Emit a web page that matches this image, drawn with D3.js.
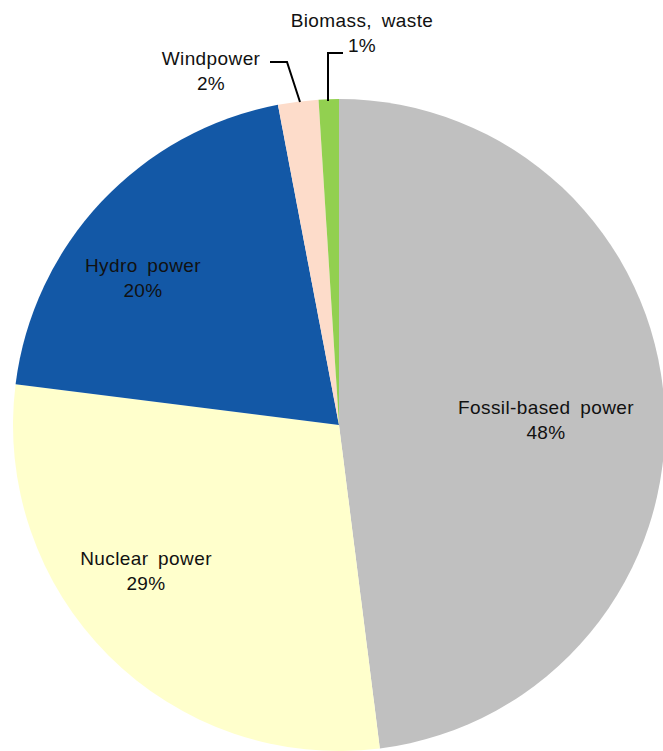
<!DOCTYPE html>
<html>
<head>
<meta charset="utf-8">
<script src="https://cdn.jsdelivr.net/npm/d3@7"></script>
<style>
  body { margin: 0; background: #fff; }
  svg text { font-family: "Liberation Sans", Arial, sans-serif; font-size: 19px; fill: #111; letter-spacing: 0.4px; word-spacing: 4px; }
</style>
</head>
<body>
<svg width="663" height="751"></svg>
<script>
// chart data
var categories = ["Fossil-based power", "Nuclear power", "Hydro power", "Windpower", "Biomass, waste"];
var shares = [48, 29, 20, 2, 1];
var colors = ["#c0c0c0", "#ffffcc", "#1358a6", "#fddcca", "#92d050"];

// label spots (centre of the two-line label)
var labelPos = [[546, 420], [146, 571], [143, 278], [211, 71], [362, 33]];

var svg = d3.select("svg"),
    cx = 339, cy = 425, radius = 326;

var pie = d3.pie().sort(null).value(d => d);
var arc = d3.arc().innerRadius(0).outerRadius(radius);

var g = svg.append("g").attr("transform", `translate(${cx},${cy})`);

g.selectAll("path")
    .data(pie(shares))
    .join("path")
    .attr("d", arc)
    .attr("fill", (d, i) => colors[i]);

// leader lines for the two small slices
var leaders = [
    [[270, 62], [287, 62], [300, 102]],
    [[328, 101], [328, 53], [343, 53]]
];
svg.selectAll("path.leader")
    .data(leaders)
    .join("path")
    .attr("class", "leader")
    .attr("d", d3.line())
    .attr("fill", "none")
    .attr("stroke", "#000")
    .attr("stroke-width", 2);

// labels
var lbl = svg.selectAll("text.lbl")
    .data(categories)
    .join("text")
    .attr("class", "lbl")
    .attr("text-anchor", "middle")
    .attr("transform", (d, i) => `translate(${labelPos[i][0]},${labelPos[i][1]})`);

lbl.append("tspan").attr("x", 0).attr("y", -6).text(d => d);
lbl.append("tspan").attr("x", 0).attr("y", 19).text((d, i) => shares[i] + "%");
</script>
</body>
</html>
